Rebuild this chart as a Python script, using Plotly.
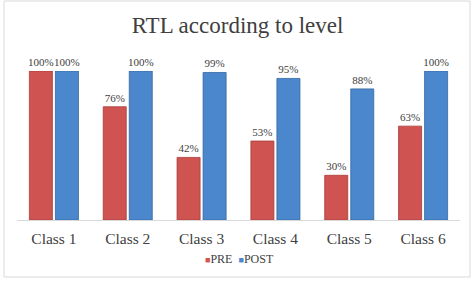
import plotly.graph_objects as go

categories = ["Class 1", "Class 2", "Class 3", "Class 4", "Class 5", "Class 6"]
pre_values = [100, 76, 42, 53, 30, 63]
post_values = [100, 100, 99, 95, 88, 100]
series_names = ["PRE", "POST"]
title_text = "RTL according to level"

FONT = "Liberation Serif, Times New Roman, serif"
RED = "#CF5350"
BLUE = "#4B87CD"
colors = [RED, BLUE]

fig = go.Figure()
for name, vals, col, edge in [
    (series_names[0], pre_values, RED, "#A83C3A"),
    (series_names[1], post_values, BLUE, "#35679F"),
]:
    fig.add_trace(go.Bar(
        x=categories, y=vals, name=name,
        marker=dict(color=col, line=dict(color=edge, width=0.8)),
        texttemplate="%{y}%", textposition="outside", constraintext="none",
        textfont=dict(family=FONT, size=11, color="#404040"),
        cliponaxis=False,
    ))

legend_html = "&nbsp;&nbsp;".join(
    f"<span style='color:{c};font-size:9px'>■</span>{n}" for n, c in zip(series_names, colors)
)

fig.update_layout(
    width=475, height=282,
    margin=dict(l=17, r=15, t=71, b=62),
    paper_bgcolor="white", plot_bgcolor="white",
    barmode="group", bargap=0.295, bargroupgap=0.115,
    title=dict(text=title_text, x=0.5, xanchor="center", y=1 - 25 / 282, yanchor="middle",
               yref="container", font=dict(family=FONT, size=23, color="#404040")),
    xaxis=dict(showgrid=False, showline=True, linecolor="#D9D9D9", linewidth=1,
               ticks="", ticklabelstandoff=4,
               tickfont=dict(family=FONT, size=15.5, color="#404040")),
    yaxis=dict(range=[0, 100], visible=False, showgrid=False),
    showlegend=False,
    annotations=[dict(text=legend_html, xref="paper", yref="paper",
                      x=(240 - 17) / 443, y=(220 - 259) / 149,
                      xanchor="center", yanchor="middle", showarrow=False,
                      font=dict(family=FONT, size=12, color="#404040"))],
)
fig.add_shape(type="rect", xref="paper", yref="paper",
              x0=(4 - 17) / 443, x1=(470 - 17) / 443,
              y0=(220 - 277) / 149, y1=(220 - 1) / 149,
              line=dict(color="#D9D9D9", width=1), fillcolor="rgba(0,0,0,0)", layer="below")

fig.write_html("out.html")
